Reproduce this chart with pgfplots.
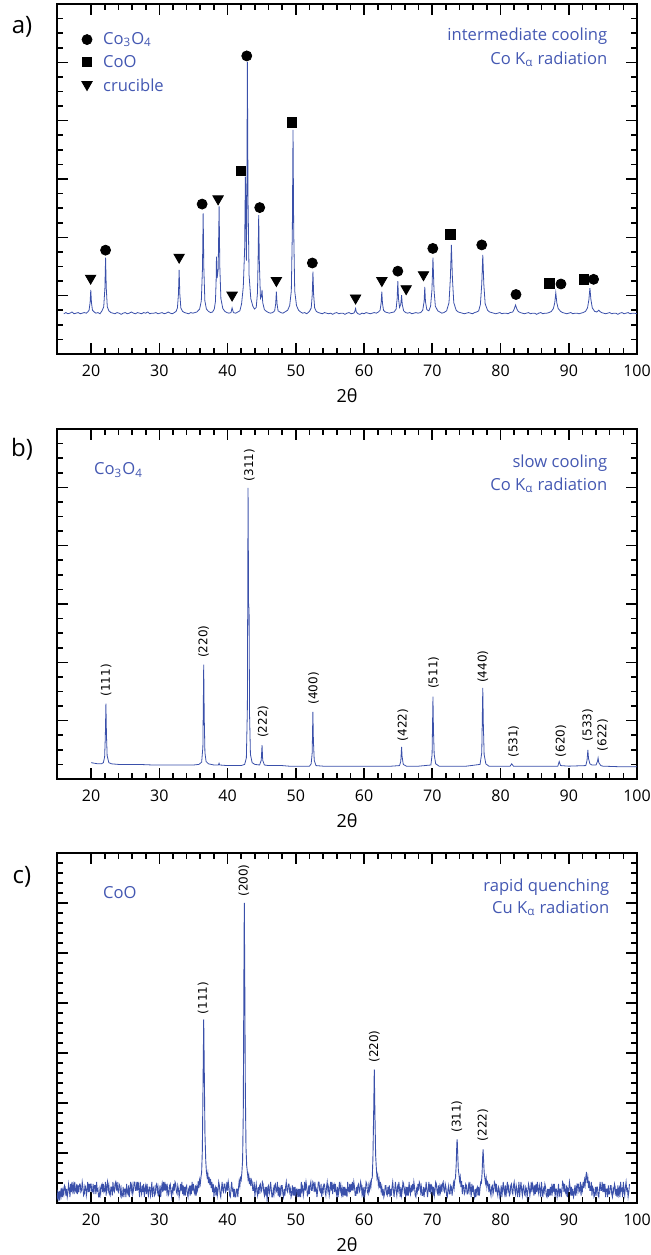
\documentclass[border=0pt]{standalone}
\usepackage{fontspec}
\setmainfont{Open Sans}
\newfontfamily\hklfont{DejaVu Sans}
\usepackage{pgfplots}
\usepackage{pgfplotstable}
\pgfplotsset{compat=1.18}
\definecolor{xrdblue}{RGB}{58,80,170}
\definecolor{txtblue}{RGB}{68,88,178}

\pgfplotstableread{
x y
16.0 0.69
16.3 0.71
16.6 0.69
16.9 0.70
17.2 0.72
17.5 0.69
17.8 0.70
18.1 0.71
18.4 0.69
18.7 0.70
19.0 0.71
19.3 0.70
19.5 0.72
19.7 0.75
19.85 0.88
19.95 1.10
20.05 0.88
20.2 0.75
20.45 0.72
20.7 0.70
21.0 0.71
21.3 0.69
21.6 0.74
21.85 0.81
22.02 1.13
22.12 1.65
22.22 1.13
22.37 0.81
22.6 0.74
22.9 0.71
23.2 0.70
23.5 0.69
23.8 0.71
24.1 0.70
24.4 0.68
24.7 0.70
25.0 0.71
25.3 0.69
25.6 0.70
25.9 0.72
26.2 0.70
26.5 0.69
26.8 0.71
27.1 0.70
27.4 0.69
27.7 0.71
28.0 0.70
28.3 0.72
28.6 0.69
28.9 0.70
29.2 0.70
29.5 0.71
29.8 0.69
30.1 0.70
30.4 0.71
30.7 0.69
31.0 0.70
31.3 0.72
31.6 0.70
31.9 0.69
32.2 0.71
32.45 0.73
32.65 0.79
32.8 1.03
32.9 1.44
33.0 1.03
33.15 0.79
33.4 0.73
33.7 0.71
34.0 0.70
34.3 0.69
34.6 0.71
34.9 0.70
35.2 0.71
35.5 0.72
35.9 0.77
36.15 0.91
36.32 1.47
36.42 2.41
36.52 1.47
36.67 0.91
36.9 0.77
37.2 0.73
37.5 0.71
37.8 0.72
38.05 0.77
38.22 0.90
38.32 1.25
38.37 1.67
38.47 1.30
38.62 1.45
38.76 2.53
38.86 1.50
39.02 0.95
39.3 0.78
39.6 0.73
39.9 0.71
40.2 0.70
40.5 0.71
40.66 0.79
40.85 0.71
41.2 0.70
41.5 0.72
41.8 0.74
42.05 0.86
42.3 1.15
42.5 1.80
42.61 3.04
42.7 2.10
42.76 1.60
42.82 2.60
42.90 5.01
43.0 2.60
43.15 1.35
43.4 0.95
43.7 0.82
43.95 0.77
44.2 0.80
44.38 1.05
44.47 1.60
44.56 2.38
44.66 1.55
44.82 0.95
44.95 0.98
45.05 1.10
45.15 0.88
45.4 0.76
45.7 0.73
46.0 0.71
46.3 0.70
46.6 0.71
46.9 0.74
47.05 0.86
47.15 1.07
47.25 0.86
47.4 0.74
47.8 0.71
48.1 0.70
48.4 0.72
48.8 0.75
49.1 0.83
49.34 1.08
49.49 2.11
49.59 3.84
49.69 2.11
49.84 1.08
50.1 0.83
50.4 0.75
50.7 0.72
51.0 0.70
51.3 0.71
51.6 0.69
52.0 0.73
52.26 0.79
52.41 1.02
52.51 1.41
52.61 1.02
52.76 0.79
53.0 0.73
53.3 0.71
53.6 0.70
53.9 0.69
54.2 0.71
54.5 0.70
54.8 0.69
55.1 0.70
55.4 0.68
55.7 0.70
56.0 0.71
56.3 0.69
56.6 0.70
56.9 0.70
57.2 0.68
57.5 0.70
57.8 0.71
58.1 0.69
58.5 0.70
58.65 0.73
58.76 0.78
58.87 0.72
59.1 0.69
59.4 0.68
59.7 0.70
60.0 0.69
60.3 0.71
60.6 0.70
60.9 0.69
61.2 0.70
61.5 0.71
61.8 0.70
62.1 0.72
62.35 0.75
62.5 0.87
62.6 1.07
62.7 0.87
62.85 0.75
63.1 0.72
63.4 0.71
63.7 0.70
64.0 0.71
64.4 0.72
64.7 0.77
64.85 0.95
64.95 1.25
65.05 0.95
65.2 0.80
65.38 0.85
65.5 1.01
65.6 0.85
65.8 0.74
66.1 0.71
66.4 0.70
66.7 0.71
67.0 0.69
67.3 0.70
67.6 0.71
67.9 0.70
68.3 0.71
68.6 0.75
68.8 0.90
68.9 1.15
69.0 0.90
69.2 0.76
69.5 0.74
69.75 0.82
69.95 1.10
70.1 1.65
70.25 1.10
70.45 0.82
70.8 0.74
71.1 0.72
71.4 0.70
71.7 0.71
72.1 0.74
72.45 0.88
72.65 1.30
72.8 1.87
72.95 1.30
73.15 0.88
73.5 0.75
73.8 0.72
74.1 0.71
74.4 0.70
74.7 0.69
75.0 0.70
75.3 0.71
75.6 0.70
75.9 0.69
76.2 0.71
76.5 0.72
76.8 0.74
77.05 0.85
77.25 1.20
77.4 1.70
77.55 1.20
77.75 0.86
78.1 0.75
78.4 0.72
78.7 0.71
79.0 0.70
79.3 0.69
79.6 0.70
79.9 0.71
80.2 0.69
80.5 0.70
80.8 0.70
81.1 0.69
81.4 0.71
81.8 0.72
82.0 0.77
82.2 0.84
82.4 0.77
82.6 0.73
82.9 0.71
83.2 0.70
83.5 0.69
83.8 0.70
84.1 0.71
84.4 0.69
84.7 0.70
85.0 0.70
85.3 0.68
85.6 0.70
85.9 0.71
86.2 0.69
86.5 0.70
86.8 0.70
87.1 0.71
87.45 0.73
87.75 0.78
87.95 0.88
88.1 1.05
88.25 0.88
88.45 0.78
88.8 0.73
89.1 0.71
89.4 0.70
89.7 0.69
90.0 0.70
90.3 0.71
90.6 0.69
90.9 0.70
91.2 0.70
91.5 0.69
91.8 0.70
92.1 0.71
92.45 0.73
92.75 0.79
92.95 0.93
93.1 1.13
93.25 0.93
93.45 0.79
93.8 0.73
94.1 0.72
94.3 0.74
94.4 0.75
94.55 0.73
94.8 0.71
95.1 0.70
95.4 0.69
95.7 0.70
96.0 0.71
96.3 0.69
96.6 0.70
96.9 0.70
97.2 0.68
97.5 0.70
97.8 0.71
98.1 0.69
98.4 0.70
98.7 0.71
99.0 0.69
99.3 0.70
99.6 0.70
100.0 0.69
}\dataA

\pgfplotstableread{
x y
20.0 0.28
20.5 0.27
21.0 0.26
21.5 0.26
21.8 0.28
21.98 0.38
22.08 0.72
22.17 1.29
22.25 0.75
22.35 0.40
22.6 0.28
23.0 0.26
24.0 0.25
25.0 0.25
26.0 0.25
27.0 0.25
28.0 0.245
29.0 0.24
30.0 0.24
31.0 0.24
32.0 0.24
33.0 0.24
34.0 0.24
35.0 0.24
35.8 0.25
36.2 0.29
36.38 0.55
36.5 1.96
36.58 1.05
36.68 0.45
36.85 0.30
37.2 0.26
38.0 0.24
38.65 0.24
38.75 0.27
38.85 0.24
40.0 0.23
41.0 0.23
42.0 0.23
42.5 0.25
42.75 0.36
42.9 1.20
43.0 4.99
43.08 3.00
43.15 2.90
43.22 1.10
43.35 0.42
43.6 0.28
44.0 0.25
44.7 0.24
44.93 0.32
45.05 0.58
45.15 0.32
45.4 0.24
46.0 0.23
47.0 0.23
48.0 0.23
49.0 0.22
50.0 0.22
51.0 0.22
52.0 0.22
52.25 0.26
52.4 0.45
52.5 1.15
52.58 0.65
52.7 0.32
52.95 0.23
54.0 0.22
56.0 0.22
58.0 0.22
60.0 0.22
62.0 0.22
64.0 0.22
65.2 0.23
65.38 0.30
65.5 0.55
65.58 0.38
65.75 0.25
66.2 0.22
68.0 0.22
69.8 0.24
69.97 0.42
70.1 1.41
70.17 0.85
70.28 0.42
70.5 0.26
71.0 0.22
73.0 0.22
75.0 0.22
77.0 0.25
77.25 0.45
77.4 1.56
77.48 0.95
77.6 0.42
77.85 0.26
78.3 0.22
80.0 0.22
81.4 0.22
81.64 0.26
81.9 0.22
84.0 0.22
86.0 0.22
88.4 0.22
88.6 0.30
88.8 0.23
90.0 0.22
92.5 0.23
92.68 0.32
92.8 0.50
92.9 0.35
93.1 0.26
93.4 0.24
94.0 0.24
94.2 0.30
94.3 0.36
94.4 0.28
94.7 0.23
95.0 0.22
97.5 0.21
100.0 0.21
}\dataB

\pgfplotstableread{
x y
15.0 0.06
15.1 0.20
15.2 0.10
15.3 0.24
15.4 0.05
15.5 0.22
15.6 0.14
15.7 0.30
15.8 0.12
15.9 0.26
16.0 0.18
16.1 0.35
16.2 0.32
16.3 0.15
16.4 0.28
16.5 0.12
16.6 0.22
16.7 0.38
16.8 0.28
16.9 0.12
17.0 0.38
17.1 0.22
17.2 0.42
17.3 0.25
17.4 0.35
17.5 0.18
17.6 0.42
17.7 0.25
17.8 0.22
17.9 0.38
18.0 0.18
18.1 0.35
18.2 0.22
18.3 0.38
18.4 0.38
18.5 0.22
18.6 0.25
18.7 0.42
18.8 0.32
18.9 0.15
19.0 0.18
19.1 0.35
19.2 0.32
19.3 0.15
19.4 0.25
19.5 0.42
19.6 0.22
19.7 0.38
19.8 0.22
19.9 0.38
20.0 0.38
20.1 0.22
20.2 0.22
20.3 0.38
20.4 0.18
20.5 0.35
20.6 0.35
20.7 0.18
20.8 0.42
20.9 0.25
21.0 0.28
21.1 0.12
21.2 0.12
21.3 0.28
21.4 0.18
21.5 0.35
21.6 0.38
21.7 0.22
21.8 0.38
21.9 0.22
22.0 0.25
22.1 0.42
22.2 0.15
22.3 0.32
22.4 0.42
22.5 0.25
22.6 0.35
22.7 0.18
22.8 0.15
22.9 0.32
23.0 0.32
23.1 0.15
23.2 0.42
23.3 0.25
23.4 0.22
23.5 0.38
23.6 0.42
23.7 0.25
23.8 0.42
23.9 0.25
24.0 0.22
24.1 0.38
24.2 0.35
24.3 0.18
24.4 0.28
24.5 0.12
24.6 0.15
24.7 0.32
24.8 0.12
24.9 0.28
25.0 0.28
25.1 0.12
25.2 0.38
25.3 0.22
25.4 0.18
25.5 0.35
25.6 0.12
25.7 0.28
25.8 0.42
25.9 0.25
26.0 0.35
26.1 0.18
26.2 0.25
26.3 0.42
26.4 0.42
26.5 0.25
26.6 0.25
26.7 0.42
26.8 0.25
26.9 0.42
27.0 0.28
27.1 0.12
27.2 0.42
27.3 0.25
27.4 0.18
27.5 0.35
27.6 0.22
27.7 0.38
27.8 0.12
27.9 0.28
28.0 0.35
28.1 0.18
28.2 0.38
28.3 0.22
28.4 0.15
28.5 0.32
28.6 0.32
28.7 0.15
28.8 0.25
28.9 0.42
29.0 0.12
29.1 0.28
29.2 0.32
29.3 0.15
29.4 0.18
29.5 0.35
29.6 0.38
29.7 0.22
29.8 0.32
29.9 0.15
30.0 0.18
30.1 0.35
30.2 0.12
30.3 0.28
30.4 0.38
30.5 0.22
30.6 0.42
30.7 0.25
30.8 0.42
30.9 0.25
31.0 0.38
31.1 0.22
31.2 0.32
31.3 0.15
31.4 0.18
31.5 0.35
31.6 0.38
31.7 0.22
31.8 0.12
31.9 0.28
32.0 0.22
32.1 0.38
32.2 0.25
32.3 0.42
32.4 0.38
32.5 0.22
32.6 0.18
32.7 0.35
32.8 0.28
32.9 0.12
33.0 0.22
33.1 0.38
33.2 0.25
33.3 0.42
33.4 0.18
33.5 0.35
33.6 0.15
33.7 0.32
33.8 0.15
33.9 0.32
34.0 0.35
34.1 0.18
34.2 0.12
34.3 0.28
34.4 0.32
34.5 0.15
34.6 0.35
34.7 0.18
34.8 0.42
34.9 0.25
35.0 0.38
35.1 0.22
35.2 0.18
35.3 0.35
35.4 0.15
35.5 0.32
35.6 0.26
35.7 0.44
35.8 0.30
35.9 0.46
36.0 0.38
36.1 0.52
36.2 0.62
36.3 1.05
36.42 2.60
36.5 3.67
36.58 2.70
36.68 1.40
36.8 0.85
36.9 0.62
37.0 0.52
37.1 0.60
37.2 0.40
37.3 0.52
37.4 0.36
37.5 0.48
37.6 0.30
37.7 0.42
37.8 0.22
37.9 0.38
38.0 0.12
38.1 0.28
38.2 0.32
38.3 0.15
38.4 0.32
38.5 0.15
38.6 0.25
38.7 0.42
38.8 0.35
38.9 0.18
39.0 0.12
39.1 0.28
39.2 0.42
39.3 0.25
39.4 0.22
39.5 0.38
39.6 0.38
39.7 0.22
39.8 0.25
39.9 0.42
40.0 0.25
40.1 0.42
40.2 0.32
40.3 0.15
40.4 0.12
40.5 0.28
40.6 0.42
40.7 0.25
40.8 0.28
40.9 0.12
41.0 0.28
41.1 0.12
41.2 0.12
41.3 0.28
41.4 0.28
41.5 0.12
41.6 0.30
41.7 0.44
41.8 0.34
41.9 0.50
42.0 0.46
42.1 0.62
42.2 0.85
42.3 1.80
42.38 4.20
42.45 6.00
42.52 4.40
42.6 2.30
42.7 1.10
42.8 0.75
42.9 0.62
43.0 0.48
43.1 0.56
43.2 0.38
43.3 0.50
43.4 0.34
43.5 0.46
43.6 0.42
43.7 0.25
43.8 0.25
43.9 0.42
44.0 0.12
44.1 0.28
44.2 0.38
44.3 0.22
44.4 0.15
44.5 0.32
44.6 0.18
44.7 0.35
44.8 0.38
44.9 0.22
45.0 0.25
45.1 0.42
45.2 0.38
45.3 0.22
45.4 0.15
45.5 0.32
45.6 0.15
45.7 0.32
45.8 0.03
45.9 0.32
46.0 0.35
46.1 0.18
46.2 0.25
46.3 0.42
46.4 0.28
46.5 0.12
46.6 0.12
46.7 0.28
46.8 0.18
46.9 0.35
47.0 0.38
47.1 0.22
47.2 0.25
47.3 0.42
47.4 0.15
47.5 0.32
47.6 0.12
47.7 0.28
47.8 0.18
47.9 0.35
48.0 0.35
48.1 0.18
48.2 0.12
48.3 0.28
48.4 0.15
48.5 0.32
48.6 0.42
48.7 0.25
48.8 0.22
48.9 0.38
49.0 0.38
49.1 0.22
49.2 0.28
49.3 0.12
49.4 0.18
49.5 0.35
49.6 0.15
49.7 0.32
49.8 0.15
49.9 0.32
50.0 0.12
50.1 0.28
50.2 0.28
50.3 0.12
50.4 0.28
50.5 0.12
50.6 0.28
50.7 0.12
50.8 0.42
50.9 0.25
51.0 0.32
51.1 0.15
51.2 0.25
51.3 0.42
51.4 0.25
51.5 0.42
51.6 0.32
51.7 0.15
51.8 0.18
51.9 0.35
52.0 0.18
52.1 0.35
52.2 0.42
52.3 0.25
52.4 0.25
52.5 0.42
52.6 0.38
52.7 0.22
52.8 0.42
52.9 0.25
53.0 0.28
53.1 0.12
53.2 0.25
53.3 0.42
53.4 0.42
53.5 0.25
53.6 0.22
53.7 0.38
53.8 0.12
53.9 0.28
54.0 0.22
54.1 0.38
54.2 0.38
54.3 0.22
54.4 0.15
54.5 0.32
54.6 0.42
54.7 0.25
54.8 0.32
54.9 0.15
55.0 0.25
55.1 0.42
55.2 0.25
55.3 0.42
55.4 0.18
55.5 0.35
55.6 0.38
55.7 0.22
55.8 0.38
55.9 0.22
56.0 0.15
56.1 0.32
56.2 0.12
56.3 0.28
56.4 0.42
56.5 0.25
56.6 0.35
56.7 0.18
56.8 0.28
56.9 0.12
57.0 0.32
57.1 0.15
57.2 0.32
57.3 0.15
57.4 0.28
57.5 0.12
57.6 0.42
57.7 0.25
57.8 0.22
57.9 0.38
58.0 0.22
58.1 0.38
58.2 0.25
58.3 0.42
58.4 0.25
58.5 0.42
58.6 0.32
58.7 0.15
58.8 0.15
58.9 0.32
59.0 0.18
59.1 0.35
59.2 0.38
59.3 0.22
59.4 0.25
59.5 0.42
59.6 0.35
59.7 0.18
59.8 0.28
59.9 0.12
60.0 0.32
60.1 0.15
60.2 0.25
60.3 0.42
60.4 0.38
60.5 0.22
60.6 0.18
60.7 0.35
60.8 0.26
60.9 0.40
61.0 0.32
61.1 0.48
61.2 0.50
61.3 0.90
61.42 1.90
61.5 2.67
61.58 1.90
61.7 0.95
61.8 0.70
61.9 0.50
62.0 0.56
62.1 0.36
62.2 0.46
62.3 0.30
62.4 0.42
62.5 0.24
62.6 0.32
62.7 0.15
62.8 0.28
62.9 0.12
63.0 0.18
63.1 0.35
63.2 0.35
63.3 0.18
63.4 0.15
63.5 0.32
63.6 0.18
63.7 0.35
63.8 0.12
63.9 0.28
64.0 0.15
64.1 0.32
64.2 0.42
64.3 0.25
64.4 0.12
64.5 0.28
64.6 0.42
64.7 0.25
64.8 0.15
64.9 0.32
65.0 0.25
65.1 0.42
65.2 0.28
65.3 0.12
65.4 0.32
65.5 0.15
65.6 0.25
65.7 0.42
65.8 0.38
65.9 0.22
66.0 0.28
66.1 0.12
66.2 0.32
66.3 0.15
66.4 0.32
66.5 0.15
66.6 0.42
66.7 0.25
66.8 0.18
66.9 0.35
67.0 0.22
67.1 0.38
67.2 0.25
67.3 0.42
67.4 0.32
67.5 0.15
67.6 0.12
67.7 0.28
67.8 0.22
67.9 0.38
68.0 0.25
68.1 0.42
68.2 0.38
68.3 0.22
68.4 0.32
68.5 0.15
68.6 0.15
68.7 0.32
68.8 0.12
68.9 0.28
69.0 0.25
69.1 0.42
69.2 0.28
69.3 0.12
69.4 0.25
69.5 0.42
69.6 0.22
69.7 0.38
69.8 0.18
69.9 0.35
70.0 0.32
70.1 0.15
70.2 0.32
70.3 0.15
70.4 0.25
70.5 0.42
70.6 0.38
70.7 0.22
70.8 0.18
70.9 0.35
71.0 0.15
71.1 0.32
71.2 0.22
71.3 0.38
71.4 0.22
71.5 0.38
71.6 0.42
71.7 0.25
71.8 0.22
71.9 0.38
72.0 0.32
72.1 0.15
72.2 0.12
72.3 0.28
72.4 0.35
72.5 0.18
72.6 0.18
72.7 0.35
72.8 0.32
72.9 0.15
73.0 0.28
73.1 0.40
73.2 0.30
73.3 0.46
73.4 0.50
73.5 0.75
73.6 1.20
73.65 1.27
73.72 1.00
73.82 0.65
73.9 0.58
74.0 0.44
74.1 0.52
74.2 0.32
74.3 0.44
74.4 0.18
74.5 0.35
74.6 0.35
74.7 0.18
74.8 0.22
74.9 0.38
75.0 0.35
75.1 0.18
75.2 0.18
75.3 0.35
75.4 0.25
75.5 0.42
75.6 0.28
75.7 0.12
75.8 0.38
75.9 0.22
76.0 0.35
76.1 0.18
76.2 0.12
76.3 0.28
76.4 0.12
76.5 0.28
76.6 0.32
76.7 0.15
76.8 0.32
76.9 0.15
77.0 0.30
77.1 0.42
77.2 0.40
77.3 0.60
77.4 0.98
77.45 1.07
77.52 0.85
77.6 0.62
77.7 0.50
77.8 0.40
77.9 0.50
78.0 0.32
78.1 0.42
78.2 0.38
78.3 0.22
78.4 0.38
78.5 0.22
78.6 0.15
78.7 0.32
78.8 0.35
78.9 0.18
79.0 0.25
79.1 0.42
79.2 0.38
79.3 0.22
79.4 0.38
79.5 0.22
79.6 0.15
79.7 0.32
79.8 0.28
79.9 0.12
80.0 0.18
80.1 0.35
80.2 0.12
80.3 0.28
80.4 0.42
80.5 0.25
80.6 0.18
80.7 0.35
80.8 0.12
80.9 0.28
81.0 0.42
81.1 0.25
81.2 0.32
81.3 0.15
81.4 0.18
81.5 0.35
81.6 0.38
81.7 0.22
81.8 0.18
81.9 0.35
82.0 0.42
82.1 0.25
82.2 0.18
82.3 0.35
82.4 0.28
82.5 0.12
82.6 0.25
82.7 0.42
82.8 0.12
82.9 0.28
83.0 0.42
83.1 0.25
83.2 0.15
83.3 0.32
83.4 0.35
83.5 0.18
83.6 0.15
83.7 0.32
83.8 0.28
83.9 0.12
84.0 0.22
84.1 0.38
84.2 0.32
84.3 0.15
84.4 0.25
84.5 0.42
84.6 0.22
84.7 0.38
84.8 0.32
84.9 0.15
85.0 0.35
85.1 0.18
85.2 0.38
85.3 0.22
85.4 0.42
85.5 0.25
85.6 0.18
85.7 0.35
85.8 0.28
85.9 0.12
86.0 0.42
86.1 0.25
86.2 0.12
86.3 0.28
86.4 0.22
86.5 0.38
86.6 0.32
86.7 0.15
86.8 0.12
86.9 0.28
87.0 0.12
87.1 0.28
87.2 0.15
87.3 0.32
87.4 0.15
87.5 0.32
87.6 0.22
87.7 0.38
87.8 0.22
87.9 0.38
88.0 0.12
88.1 0.28
88.2 0.28
88.3 0.12
88.4 0.22
88.5 0.38
88.6 0.12
88.7 0.28
88.8 0.28
88.9 0.12
89.0 0.25
89.1 0.42
89.2 0.38
89.3 0.22
89.4 0.38
89.5 0.22
89.6 0.18
89.7 0.35
89.8 0.12
89.9 0.28
90.0 0.25
90.1 0.42
90.2 0.32
90.3 0.15
90.4 0.32
90.5 0.15
90.6 0.28
90.7 0.12
90.8 0.18
90.9 0.35
91.0 0.15
91.1 0.32
91.2 0.22
91.3 0.38
91.4 0.38
91.5 0.22
91.6 0.25
91.7 0.42
91.8 0.15
91.9 0.32
92.0 0.25
92.1 0.42
92.2 0.30
92.3 0.46
92.4 0.36
92.5 0.52
92.6 0.62
92.7 0.40
92.8 0.50
92.9 0.30
93.0 0.44
93.1 0.25
93.2 0.25
93.3 0.42
93.4 0.15
93.5 0.32
93.6 0.28
93.7 0.12
93.8 0.15
93.9 0.32
94.0 0.15
94.1 0.32
94.2 0.32
94.3 0.15
94.4 0.12
94.5 0.28
94.6 0.42
94.7 0.25
94.8 0.25
94.9 0.42
95.0 0.22
95.1 0.38
95.2 0.22
95.3 0.38
95.4 0.12
95.5 0.28
95.6 0.28
95.7 0.12
95.8 0.35
95.9 0.18
96.0 0.18
96.1 0.35
96.2 0.35
96.3 0.18
96.4 0.12
96.5 0.28
96.6 0.22
96.7 0.38
96.8 0.32
96.9 0.15
97.0 0.28
97.1 0.12
97.2 0.35
97.3 0.18
97.4 0.28
97.5 0.12
97.6 0.42
97.7 0.25
97.8 0.28
97.9 0.12
98.0 0.42
98.1 0.25
98.2 0.15
98.3 0.32
98.4 0.42
98.5 0.25
98.6 0.28
98.7 0.12
98.8 0.22
98.9 0.38
}\dataC

\pgfplotsset{
  xrd/.style={
    width=290pt, height=175pt, scale only axis,
    xmin=15, xmax=100, ymin=0,
    xtick={20,30,...,100},
    minor x tick num=4,
    yticklabels={},
    tick align=inside,
    tick pos=both,
    major tick length=5.5pt, minor tick length=3pt,
    axis line style={line width=1pt},
    every tick/.append style={black, line width=0.8pt},
    tick label style={font=\fontsize{8}{9}\selectfont},
    /pgf/number format/assume math mode=true,
    xticklabel style={anchor=base, yshift=-11.4pt},
    xlabel={2θ},
    xlabel style={font=\fontsize{9}{10}\selectfont, at={(axis description cs:0.5,0)}, anchor=center, yshift=-21pt},
  },
}
\tikzset{
  ann/.style={text=txtblue, font=\fontsize{8.3}{10}\selectfont, inner sep=0pt},
  hkl/.style={rotate=90, anchor=west, inner sep=0pt, font=\hklfont\fontsize{6}{7}\selectfont},
}

\begin{document}
\begin{tikzpicture}
\useasboundingbox (0,0) rectangle (325pt,627.5pt);

% ---------- a) ----------
\begin{axis}[xrd, at={(28.5pt,450.5pt)}, anchor=south west,
  ymax=6, ytick={0,1,...,6}, minor y tick num=3]
\addplot[xrdblue, line width=0.4pt] table[x=x,y=y] {\dataA};
\addplot[only marks, mark=*, mark size=2.5pt, black] coordinates {
 (22.12,1.78) (36.27,2.57) (42.81,5.11) (44.71,2.51) (52.42,1.56)
 (64.95,1.42) (70.08,1.81) (77.25,1.87) (82.27,1.02) (88.86,1.20) (93.64,1.28)
 (19.4,5.39)};
\addplot[only marks, mark=square*, mark size=2.3pt, black] coordinates {
 (41.98,3.14) (49.44,3.97) (72.66,2.05) (87.15,1.21) (92.17,1.28)
 (19.4,5.01)};
\addplot[only marks, mark=triangle*, mark size=3pt, black, mark options={rotate=180}] coordinates {
 (19.93,1.30) (32.90,1.66) (38.61,2.66) (40.66,1.01) (47.15,1.26)
 (58.76,0.96) (62.61,1.26) (66.17,1.12) (68.71,1.36)
 (19.4,4.62)};
\node[ann, anchor=west] at (axis cs:21.7,5.39) {Co\textsubscript{3}O\textsubscript{4}};
\node[ann, anchor=west] at (axis cs:21.7,5.01) {CoO};
\node[ann, anchor=west] at (axis cs:21.7,4.60) {crucible};
\node[ann, anchor=east] at (axis cs:95.7,5.44) {intermediate cooling};
\node[ann, anchor=east] at (axis cs:95.7,5.06) {Co K\textsubscript{α} radiation};
\end{axis}

% ---------- b) ----------
\begin{axis}[xrd, at={(28.5pt,238pt)}, anchor=south west,
  ymax=6, ytick={0,1,...,6}, minor y tick num=3]
\addplot[xrdblue, line width=0.4pt] table[x=x,y=y] {\dataB};
\node[ann, anchor=west] at (axis cs:20.4,5.30) {Co\textsubscript{3}O\textsubscript{4}};
\node[ann, anchor=east] at (axis cs:95.7,5.42) {slow cooling};
\node[ann, anchor=east] at (axis cs:95.7,5.04) {Co K\textsubscript{α} radiation};
\node[hkl] at (axis cs:22.2,1.41) {(111)};
\node[hkl] at (axis cs:36.5,2.07) {(220)};
\node[hkl] at (axis cs:43.2,5.10) {(311)};
\node[hkl] at (axis cs:45.2,0.70) {(222)};
\node[hkl] at (axis cs:52.6,1.27) {(400)};
\node[hkl] at (axis cs:65.7,0.64) {(422)};
\node[hkl] at (axis cs:70.2,1.54) {(511)};
\node[hkl] at (axis cs:77.4,1.64) {(440)};
\node[hkl] at (axis cs:81.9,0.36) {(531)};
\node[hkl] at (axis cs:88.86,0.37) {(620)};
\node[hkl] at (axis cs:92.76,0.64) {(533)};
\node[hkl] at (axis cs:94.96,0.47) {(622)};
\end{axis}

% ---------- c) ----------
\begin{axis}[xrd, at={(28.5pt,26pt)}, anchor=south west,
  ymax=7, ytick={0,1,...,7}, minor y tick num=4]
\addplot[xrdblue, line width=0.45pt] table[x=x,y=y] {\dataC};
\node[ann, anchor=west] at (axis cs:21.7,6.2) {CoO};
\node[ann, anchor=east] at (axis cs:96.0,6.32) {rapid quenching};
\node[ann, anchor=east] at (axis cs:96.0,5.90) {Cu K\textsubscript{α} radiation};
\node[hkl] at (axis cs:36.4,3.77) {(111)};
\node[hkl] at (axis cs:42.4,6.12) {(200)};
\node[hkl] at (axis cs:61.5,2.80) {(220)};
\node[hkl] at (axis cs:73.6,1.40) {(311)};
\node[hkl] at (axis cs:77.4,1.23) {(222)};
\end{axis}

\node[font=\fontsize{12}{14}\selectfont] at (11pt,614pt) {a)};
\node[font=\fontsize{12}{14}\selectfont] at (11pt,403pt) {b)};
\node[font=\fontsize{12}{14}\selectfont] at (11pt,189pt) {c)};
\end{tikzpicture}
\end{document}
